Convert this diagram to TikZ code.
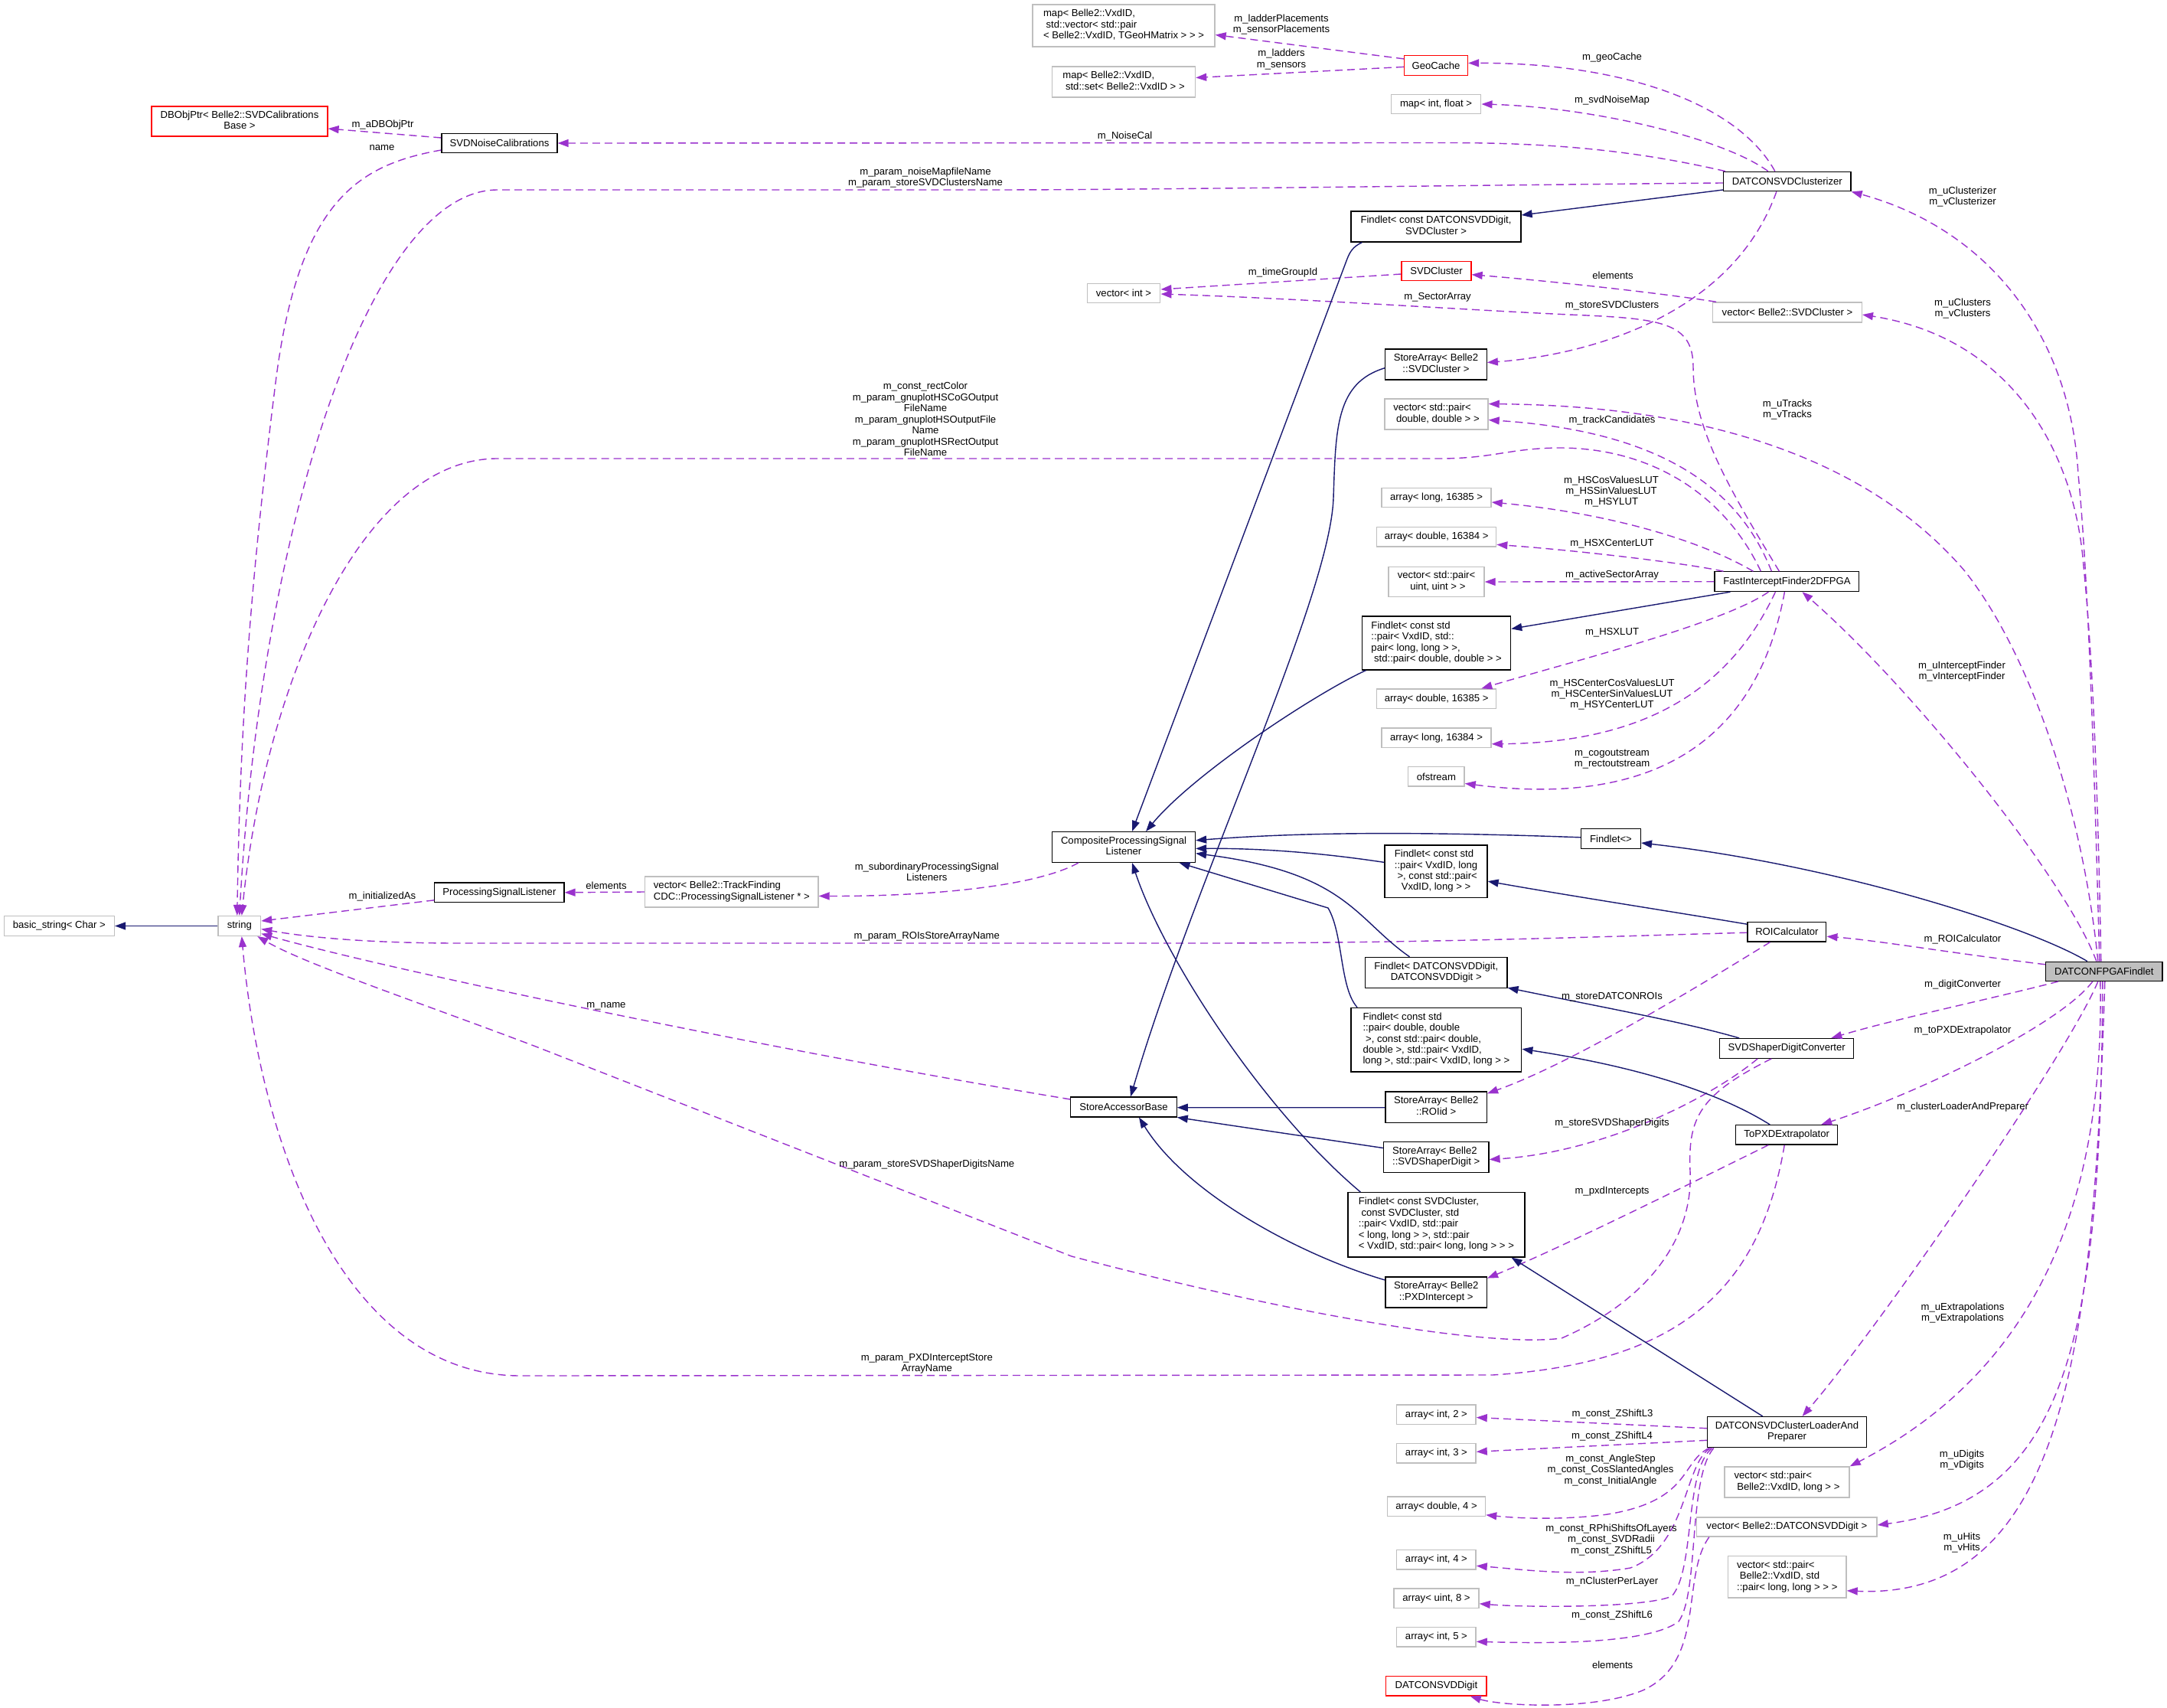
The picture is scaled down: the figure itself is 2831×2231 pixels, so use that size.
\documentclass[tikz,border=0pt]{standalone}
\usepackage{fontspec}
\setmainfont{Liberation Sans}
\usetikzlibrary{arrows.meta,calc}
\definecolor{depc}{HTML}{9A32CD}
\definecolor{inhc}{HTML}{191970}
\definecolor{gboxc}{HTML}{BFBFBF}
\newcommand{\boxlines}[2]{\begin{tabular}{@{}l@{}}#1\\\multicolumn{1}{@{}c@{}}{#2}\end{tabular}}
\tikzset{
 every node/.style={font={\fontsize{3.73}{4.1}\selectfont}, inner sep=0pt},
 cb/.style={draw=black, line width=0.35pt, fill=white},
 cg/.style={draw=gboxc, line width=0.4pt, fill=white},
 cr/.style={draw=red, line width=0.35pt, fill=white},
 sz/.style 2 args={minimum width=#1*0.01cm, minimum height=#2*0.01cm},
 dep/.style={draw=depc, line width=0.4pt, dash pattern=on 0.1cm off 0.06cm, -{Triangle[length=0.14cm,width=0.1cm]}},
 inh/.style={draw=inhc, line width=0.4pt, -{Triangle[length=0.14cm,width=0.1cm]}},
 lab/.style={align=center},
}
\begin{document}
\begin{tikzpicture}[x=0.01cm,y=-0.01cm]
\useasboundingbox (0,0) rectangle (2831,2231);
% ---------- class nodes ----------
\node[cg,sz={238}{55}] (map1) at (1468,33.5) {\boxlines{map< Belle2::VxdID,\\\ std::vector< std::pair}{< Belle2::VxdID, TGeoHMatrix > > >}};
\node[cg,sz={187}{40}] (map2) at (1468,107) {\boxlines{map< Belle2::VxdID,}{\ std::set< Belle2::VxdID > >}};
\node[cr,sz={83}{25.5}] (geo) at (1876,85.4) {GeoCache};
\node[cg,sz={117.5}{25}] (mapif) at (1876,136) {map< int, float >};
\node[cr,sz={230}{39}] (dbobj) at (313,158.5) {\boxlines{DBObjPtr< Belle2::SVDCalibrations}{Base >}};
\node[cb,sz={151}{25.5}] (svdnoise) at (652.5,187) {SVDNoiseCalibrations};
\node[cb,sz={166.5}{25.5}] (clus) at (2334.8,237) {DATCONSVDClusterizer};
\node[cb,sz={222}{40}] (fdd) at (1876,296) {\boxlines{Findlet< const DATCONSVDDigit,}{SVDCluster >}};
\node[cr,sz={91}{25.5}] (svdcl) at (1876.5,354) {SVDCluster};
\node[cg,sz={95.5}{25.5}] (vint) at (1468,383) {vector< int >};
\node[cg,sz={194.5}{26}] (vsvdcl) at (2335,408) {vector< Belle2::SVDCluster >};
\node[cb,sz={132.5}{40}] (sasvdcl) at (1876,476) {\boxlines{StoreArray< Belle2}{::SVDCluster >}};
\node[cg,sz={135}{40}] (vpdd) at (1876.5,541) {\boxlines{vector< std::pair<}{\ double, double > >}};
\node[cg,sz={143}{25.5}] (al16385) at (1876.5,650) {array< long, 16385 >};
\node[cg,sz={156}{25.5}] (ad16384) at (1876.6,701.4) {array< double, 16384 >};
\node[cg,sz={125}{39.3}] (vpuu) at (1876.5,760) {\boxlines{vector< std::pair<}{\ uint, uint > >}};
\node[cb,sz={188.7}{25.7}] (fif) at (2334.4,759.7) {FastInterceptFinder2DFPGA};
\node[cb,sz={194}{70}] (fpvx) at (1876.6,840) {\boxlines{Findlet< const std\\::pair< VxdID, std::\\pair< long, long > >,}{\ std::pair< double, double > >}};
\node[cg,sz={156}{25.6}] (ad16385) at (1876.6,912.8) {array< double, 16385 >};
\node[cg,sz={143}{25.5}] (al16384) at (1876.5,963.8) {array< long, 16384 >};
\node[cg,sz={73.3}{25.3}] (ofs) at (1876.4,1014.4) {ofstream};
\node[cb,sz={187}{39.7}] (comp) at (1468,1106.5) {\boxlines{CompositeProcessingSignal}{Listener}};
\node[cb,sz={77.8}{25.7}] (fempty) at (2104.5,1095.5) {Findlet<>};
\node[cb,sz={134}{68.8}] (fvl) at (1876,1138.4) {\boxlines{Findlet< const std\\::pair< VxdID, long\\\ >, const std::pair<}{VxdID, long > >}};
\node[cb,sz={102.8}{25.7}] (roi) at (2334.4,1217.2) {ROICalculator};
\node[draw=black,fill=gboxc,line width=0.35pt,sz={152.5}{25.2}] (main) at (2748.8,1268.8) {DATCONFPGAFindlet};
\node[cb,sz={185.5}{40.2}] (fdig) at (1876.2,1270.5) {\boxlines{Findlet< DATCONSVDDigit,}{DATCONSVDDigit >}};
\node[cb,sz={222.7}{83.7}] (fpdd) at (1876.4,1358.2) {\boxlines{Findlet< const std\\::pair< double, double\\\ >, const std::pair< double,\\double >, std::pair< VxdID,}{long >, std::pair< VxdID, long > >}};
\node[cb,sz={175}{25.7}] (shaper) at (2334.2,1369.4) {SVDShaperDigitConverter};
\node[cb,sz={138.3}{25.8}] (sabase) at (1468,1446) {StoreAccessorBase};
\node[cb,sz={132.5}{40.6}] (saroi) at (1876.2,1446.3) {\boxlines{StoreArray< Belle2}{::ROIid >}};
\node[cb,sz={133}{25.5}] (topxd) at (2334.2,1482.3) {ToPXDExtrapolator};
\node[cb,sz={137.5}{40.2}] (sashaper) at (1876.2,1511.5) {\boxlines{StoreArray< Belle2}{::SVDShaperDigit >}};
\node[cb,sz={231}{84.4}] (fsvd) at (1876.4,1599.8) {\boxlines{Findlet< const SVDCluster,\\\ const SVDCluster, std\\::pair< VxdID, std::pair\\< long, long > >, std::pair}{< VxdID, std::pair< long, long > > >}};
\node[cb,sz={132.5}{40}] (sapxd) at (1876.2,1688) {\boxlines{StoreArray< Belle2}{::PXDIntercept >}};
\node[cb,sz={208}{40.2}] (loader) at (2334.5,1870.7) {\boxlines{DATCONSVDClusterLoaderAnd}{Preparer}};
\node[cg,sz={103.3}{25.5}] (ai2) at (1876.4,1847.8) {array< int, 2 >};
\node[cg,sz={103.3}{25.5}] (ai3) at (1876.4,1898.3) {array< int, 3 >};
\node[cg,sz={128}{25.5}] (ad4) at (1876.5,1967.8) {array< double, 4 >};
\node[cg,sz={103.3}{25.5}] (ai4) at (1876.4,2037.3) {array< int, 4 >};
\node[cg,sz={111}{25.5}] (au8) at (1876.5,2087.8) {array< uint, 8 >};
\node[cg,sz={103.3}{25.5}] (ai5) at (1876.4,2138.3) {array< int, 5 >};
\node[cr,sz={131.3}{25.5}] (dsd) at (1876.4,2202.2) {DATCONSVDDigit};
\node[cg,sz={163}{40}] (vpvl) at (2334.5,1936) {\boxlines{vector< std::pair<}{\ Belle2::VxdID, long > >}};
\node[cg,sz={235.5}{25}] (vdsd) at (2334.3,1994.5) {vector< Belle2::DATCONSVDDigit >};
\node[cg,sz={154.4}{54.5}] (vpvpl) at (2334.8,2059.8) {\boxlines{vector< std::pair<\\\ Belle2::VxdID, std}{::pair< long, long > > >}};
\node[cg,sz={226.4}{40}] (vpsl) at (955.8,1165) {\boxlines{vector< Belle2::TrackFinding}{CDC::ProcessingSignalListener * >}};
\node[cb,sz={169.2}{25.6}] (psl) at (652.4,1165.8) {ProcessingSignalListener};
\node[cg,sz={55.5}{25.7}] (str) at (312.8,1209.5) {string};
\node[cg,sz={144}{25.7}] (bstr) at (77.4,1209.5) {basic\_string< Char >};
% ---------- usage (dashed) edges ----------
\draw[dep] ($(geo.west)+(0,-8.5)$) -- ($(map1.east)+(0,12)$);
\draw[dep] ($(geo.west)+(0,2)$) -- ($(map2.east)+(0,-5.5)$);
\draw[dep] ($(clus.north)+(-16,0)$) .. controls (2270,135) and (2120,82) .. ($(geo.east)+(0,-3)$);
\draw[dep] ($(clus.north)+(-25,0)$) .. controls (2250,180) and (2080,140) .. (mapif.east);
\draw[dep] ($(clus.north west)+(3,0)$) .. controls (2150,200) and (2050,187) .. (1900,186.5) -- (svdnoise.east);
\draw[dep] ($(clus.west)+(0,2)$) .. controls (2000,241) and (1500,248) .. (1300,248) -- (650,248) .. controls (480,248) and (340,700) .. ($(str.north)+(0,0)$);
\draw[dep] ($(fif.north)+(-34,0)$) .. controls (2250,640) and (2150,584) .. (2034,585) .. controls (1970,586) and (1950,599) .. (1880,599) -- (650,599) .. controls (470,599) and (345,900) .. ($(str.north)+(3,0)$);
\draw[dep] ($(svdnoise.west)+(0,-7)$) -- ($(dbobj.east)+(0,9.5)$);
\draw[dep] ($(svdnoise.west)+(0,9)$) .. controls (470,215) and (390,260) .. (360,500) .. controls (335,700) and (314,900) .. ($(str.north)+(-3,0)$);
\draw[dep] ($(fif.north)+(-10,0)$) .. controls (2260,640) and (2212,560) .. (2212,480) .. controls (2212,420) and (2170,416) .. (2050,411) .. controls (1900,404) and (1700,390) .. ($(vint.east)+(0,1)$);
\draw[dep] ($(svdcl.west)+(0,4)$) -- ($(vint.east)+(0,-5)$);
\draw[dep] ($(vsvdcl.north west)+(5,0)$) .. controls (2150,380) and (2000,365) .. ($(svdcl.east)+(0,4.7)$);
\draw[dep] ($(clus.south)+(-14,0)$) .. controls (2260,420) and (2060,465) .. ($(sasvdcl.east)+(0,-2.5)$);
\draw[dep] ($(main.north)+(-8,0)$) .. controls (2720,1050) and (2650,850) .. (2566,745) .. controls (2450,610) and (2250,530) .. ($(vpdd.east)+(0,-13.4)$);
\draw[dep] ($(fif.north)+(-20,0)$) .. controls (2280,660) and (2200,565) .. ($(vpdd.east)+(0,7.6)$);
\draw[dep] ($(fif.north)+(-44,0)$) .. controls (2220,705) and (2100,670) .. ($(al16385.east)+(0,6)$);
\draw[dep] ($(fif.north west)+(12,0)$) .. controls (2200,735) and (2050,718) .. ($(ad16384.east)+(0,10)$);
\draw[dep] (fif.west) -- (vpuu.east);
\draw[dep] ($(fif.south)+(-24,0)$) .. controls (2250,815) and (2050,865) .. ($(ad16385.north east)+(-20,0)$);
\draw[dep] ($(fif.south)+(-15,0)$) .. controls (2260,900) and (2150,970) .. ($(al16384.east)+(0,8)$);
\draw[dep] ($(fif.south)+(-3,0)$) .. controls (2290,1000) and (2120,1050) .. ($(ofs.east)+(0,9)$);
\draw[dep] ($(main.north)+(-10,0)$) .. controls (2700,1150) and (2500,900) .. ($(fif.south)+(20,0)$);
\draw[dep] ($(main.north)+(-6,0)$) .. controls (2736,1000) and (2728,750) .. (2715,620) .. controls (2705,440) and (2600,300) .. (clus.south east);
\draw[dep] ($(main.north)+(-4,0)$) .. controls (2740,1000) and (2733,850) .. (2722,740) .. controls (2710,580) and (2620,440) .. ($(vsvdcl.east)+(0,3)$);
\draw[dep] ($(main.west)+(0,-9)$) .. controls (2550,1245) and (2450,1228) .. ($(roi.east)+(0,6)$);
\draw[dep] ($(main.south west)+(17,0)$) .. controls (2600,1305) and (2480,1330) .. ($(shaper.north east)+(-30,0)$);
\draw[dep] ($(main.south)+(-15,0)$) .. controls (2690,1340) and (2500,1430) .. ($(topxd.north)+(45,0)$);
\draw[dep] ($(main.south)+(-8,0)$) .. controls (2700,1380) and (2450,1740) .. ($(loader.north)+(20,0)$);
\draw[dep] ($(main.south)+(-5,0)$) .. controls (2750,1600) and (2640,1800) .. (vpvl.north east);
\draw[dep] ($(main.south)+(-2,0)$) .. controls (2745,1750) and (2700,1960) .. ($(vdsd.east)+(0,-2.5)$);
\draw[dep] ($(main.south)+(1,0)$) .. controls (2735,1750) and (2700,2090) .. ($(vpvpl.east)+(0,18)$);
\draw[dep] ($(comp.south west)+(35,0)$) .. controls (1350,1160) and (1200,1171) .. ($(vpsl.east)+(0,5.4)$);
\draw[dep] (vpsl.west) -- (psl.east);
\draw[dep] ($(psl.west)+(0,10)$) -- ($(str.east)+(0,-6.5)$);
\draw[dep] ($(roi.west)+(0,1)$) .. controls (2100,1223) and (1900,1231) .. (1600,1232) -- (600,1232) .. controls (480,1232) and (400,1224) .. ($(str.east)+(0,4)$);
\draw[dep] ($(sabase.north west)+(0,3.5)$) .. controls (1000,1370) and (500,1265) .. ($(str.east)+(0,10)$);
\draw[dep] ($(shaper.south)+(-20,0)$) .. controls (2220,1430) and (2205,1460) .. (2208,1530) .. controls (2212,1620) and (2150,1700) .. (2040,1748) .. controls (1950,1760) and (1700,1720) .. (1400,1641) -- (700,1367) .. controls (550,1310) and (400,1260) .. ($(str.south east)+(-5,0)$);
\draw[dep] ($(topxd.south)+(-3,0)$) .. controls (2300,1680) and (2200,1780) .. (1950,1796) -- (680,1797) .. controls (450,1797) and (340,1500) .. ($(str.south)+(3,0)$);
\draw[dep] ($(roi.south)+(-22,0)$) .. controls (2200,1300) and (2050,1390) .. ($(saroi.east)+(0,-18)$);
\draw[dep] ($(shaper.south)+(-38,0)$) .. controls (2240,1430) and (2100,1505) .. ($(sashaper.east)+(0,3)$);
\draw[dep] ($(topxd.south)+(-24,0)$) .. controls (2220,1540) and (2050,1625) .. ($(sapxd.east)+(0,-18.4)$);
\draw[dep] ($(loader.west)+(0,-5)$) -- ($(ai2.east)+(0,3.7)$);
\draw[dep] ($(loader.west)+(0,10.6)$) -- ($(ai3.east)+(0,-2)$);
\draw[dep] ($(loader.south west)+(3,0)$) .. controls (2195,1910) and (2210,1960) .. (2100,1978) .. controls (2050,1985) and (1990,1984) .. ($(ad4.east)+(0,11)$);
\draw[dep] ($(loader.south west)+(5,0)$) .. controls (2200,1910) and (2205,2020) .. (2130,2048) .. controls (2060,2060) and (1990,2050) .. ($(ai4.east)+(0,8)$);
\draw[dep] ($(loader.south west)+(7,0)$) .. controls (2200,1920) and (2215,2050) .. (2184,2085) .. controls (2150,2100) and (2000,2100) .. ($(au8.east)+(0,7)$);
\draw[dep] ($(loader.south west)+(9,0)$) .. controls (2205,1930) and (2220,2080) .. (2193,2118) .. controls (2150,2150) and (2000,2146) .. ($(ai5.east)+(0,6)$);
\draw[dep] ($(vdsd.south west)+(17,0)$) .. controls (2195,2060) and (2230,2170) .. (2146,2208) .. controls (2080,2235) and (1960,2228) .. ($(dsd.south east)+(-22,0)$);
% ---------- inheritance edges ----------
\draw[inh] (str.west) -- (bstr.east);
\draw[inh] ($(clus.west)+(0,11)$) -- ($(fdd.east)+(0,-15)$);
\draw[inh] ($(fdd.south west)+(15,0)$) .. controls (1768,322) and (1764,328) .. (1760,338) -- ($(comp.north)+(11,0)$);
\draw[inh] ($(fpvx.south west)+(5.5,0)$) .. controls (1720,905) and (1560,1010) .. ($(comp.north)+(29,0)$);
\draw[inh] ($(fif.south west)+(21,0)$) -- ($(fpvx.east)+(0,-18.6)$);
\draw[inh] ($(sasvdcl.west)+(0,4.7)$) .. controls (1745,500) and (1745,560) .. (1742,650) .. controls (1738,780) and (1560,1150) .. ($(sabase.north)+(9,0)$);
\draw[inh] ($(fempty.west)+(0,-1.7)$) .. controls (1850,1086) and (1700,1087) .. ($(comp.east)+(0,-8.8)$);
\draw[inh] ($(main.north)+(-22,0)$) .. controls (2650,1210) and (2400,1130) .. ($(fempty.east)+(0,5.5)$);
\draw[inh] ($(fvl.west)+(0,-12)$) .. controls (1700,1110) and (1620,1108) .. ($(comp.east)+(0,1.9)$);
\draw[inh] ($(roi.west)+(0,-10)$) .. controls (2180,1190) and (2050,1170) .. ($(fvl.east)+(0,12.7)$);
\draw[inh] ($(fdig.north)+(-34.7,0)$) .. controls (1770,1200) and (1760,1140) .. ($(comp.east)+(0,8.2)$);
\draw[inh] ($(shaper.north west)+(26,0)$) .. controls (2200,1335) and (2100,1317) .. ($(fdig.south east)+(0,-1)$);
\draw[inh] ($(fpdd.north west)+(8.6,0)$) .. controls (1750,1290) and (1755,1220) .. (1735,1186) -- ($(comp.south east)+(-21.6,0)$);
\draw[inh] ($(topxd.north)+(-22,0)$) .. controls (2250,1430) and (2150,1395) .. ($(fpdd.east)+(0,12)$);
\draw[inh] ($(saroi.west)+(0,0.4)$) -- ($(sabase.east)+(0,0.7)$);
\draw[inh] ($(sashaper.west)+(0,-12)$) -- (sabase.south east);
\draw[inh] ($(sapxd.west)+(0,-16)$) .. controls (1700,1640) and (1550,1560) .. ($(sabase.south)+(20,0)$);
\draw[inh] ($(fsvd.north west)+(17,0)$) .. controls (1650,1450) and (1520,1250) .. ($(comp.south)+(11,0)$);
\draw[inh] ($(loader.north)+(-31.7,0)$) -- ($(fsvd.south east)+(-18,0)$);
% ---------- edge labels ----------
\node[lab] (la1) at (1674,32) {m\_ladderPlacements\\m\_sensorPlacements};
\node[lab] (la2) at (1674,77.5) {m\_ladders\\m\_sensors};
\node[lab] (la3) at (2106,75) {m\_geoCache};
\node[lab] (la4) at (2106,131.5) {m\_svdNoiseMap};
\node[lab] (la5) at (1469.5,178) {m\_NoiseCal};
\node[lab] (la6) at (1209,232) {m\_param\_noiseMapfileName\\m\_param\_storeSVDClustersName};
\node[lab] (la7) at (1209,547.5) {m\_const\_rectColor\\m\_param\_gnuplotHSCoGOutput\\FileName\\m\_param\_gnuplotHSOutputFile\\Name\\m\_param\_gnuplotHSRectOutput\\FileName};
\node[lab] (la8) at (500,163) {m\_aDBObjPtr};
\node[lab] (la9) at (499,193) {name};
\node[lab] (la10) at (1878,388) {m\_SectorArray};
\node[lab] (la11) at (1676,356) {m\_timeGroupId};
\node[lab] (la12) at (2107,360) {elements};
\node[lab] (la13) at (2106,399.4) {m\_storeSVDClusters};
\node[lab] (la14) at (2335,535) {m\_uTracks\\m\_vTracks};
\node[lab] (la15) at (2106,548.6) {m\_trackCandidates};
\node[lab] (la16) at (2105,642) {m\_HSCosValuesLUT\\m\_HSSinValuesLUT\\m\_HSYLUT};
\node[lab] (la17) at (2106,710) {m\_HSXCenterLUT};
\node[lab] (la18) at (2106,750.7) {m\_activeSectorArray};
\node[lab] (la19) at (2106,826) {m\_HSXLUT};
\node[lab] (la20) at (2106,907) {m\_HSCenterCosValuesLUT\\m\_HSCenterSinValuesLUT\\m\_HSYCenterLUT};
\node[lab] (la21) at (2106,991.3) {m\_cogoutstream\\m\_rectoutstream};
\node[lab] (la22) at (2563,877) {m\_uInterceptFinder\\m\_vInterceptFinder};
\node[lab] (la23) at (2564,257) {m\_uClusterizer\\m\_vClusterizer};
\node[lab] (la24) at (2564,403) {m\_uClusters\\m\_vClusters};
\node[lab] (la25) at (2564,1227) {m\_ROICalculator};
\node[lab] (la26) at (2564,1286.3) {m\_digitConverter};
\node[lab] (la27) at (2564,1346) {m\_toPXDExtrapolator};
\node[lab] (la28) at (2564,1446) {m\_clusterLoaderAndPreparer};
\node[lab] (la29) at (2564,1715) {m\_uExtrapolations\\m\_vExtrapolations};
\node[lab] (la30) at (2563,1907) {m\_uDigits\\m\_vDigits};
\node[lab] (la31) at (2563,2015) {m\_uHits\\m\_vHits};
\node[lab] (la32) at (1210.8,1139) {m\_subordinaryProcessingSignal\\Listeners};
\node[lab] (la33) at (792,1156.8) {elements};
\node[lab] (la34) at (499.4,1171.4) {m\_initializedAs};
\node[lab] (la35) at (1210.8,1223.3) {m\_param\_ROIsStoreArrayName};
\node[lab] (la36) at (792,1314.4) {m\_name};
\node[lab] (la37) at (1210.8,1520.7) {m\_param\_storeSVDShaperDigitsName};
\node[lab] (la38) at (1210.8,1781) {m\_param\_PXDInterceptStore\\ArrayName};
\node[lab] (la39) at (2106,1302) {m\_storeDATCONROIs};
\node[lab] (la40) at (2106,1467) {m\_storeSVDShaperDigits};
\node[lab] (la41) at (2106,1555.7) {m\_pxdIntercepts};
\node[lab] (la42) at (2106.5,1847.3) {m\_const\_ZShiftL3};
\node[lab] (la43) at (2106,1875.6) {m\_const\_ZShiftL4};
\node[lab] (la44) at (2104,1920.5) {m\_const\_AngleStep\\m\_const\_CosSlantedAngles\\m\_const\_InitialAngle};
\node[lab] (la45) at (2105,2011.3) {m\_const\_RPhiShiftsOfLayers\\m\_const\_SVDRadii\\m\_const\_ZShiftL5};
\node[lab] (la46) at (2106,2066) {m\_nClusterPerLayer};
\node[lab] (la47) at (2106,2110.5) {m\_const\_ZShiftL6};
\node[lab] (la48) at (2106.6,2174.4) {elements};
\end{tikzpicture}
\end{document}
